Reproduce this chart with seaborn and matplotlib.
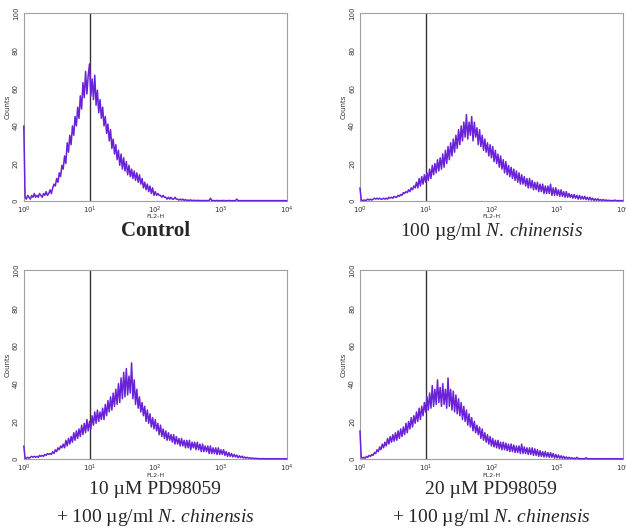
import numpy as np
import pandas as pd
import matplotlib
matplotlib.use("Agg")
import matplotlib.pyplot as plt
import seaborn as sns
from matplotlib.ticker import LogLocator, MultipleLocator

# histogram counts, one value per 0.02 decade of FL2-H (10^0 .. 10^4)
control = [
    40, 2, 1, 3, 2, 1, 3, 2, 4, 2,
    3, 2, 4, 3, 2, 4, 3, 5, 3, 4,
    6, 4, 7, 9, 8, 12, 10, 15, 13, 19,
    17, 24, 20, 31, 26, 35, 30, 40, 35, 45,
    40, 50, 44, 56, 49, 63, 55, 69, 57, 67,
    73, 56, 65, 54, 67, 51, 59, 47, 54, 44,
    50, 40, 45, 36, 41, 32, 38, 28, 33, 25,
    30, 22, 27, 19, 25, 17, 23, 16, 21, 14,
    19, 13, 17, 12, 16, 11, 15, 10, 14, 9,
    12, 7, 10, 6, 9, 5, 8, 4, 7, 3,
    5, 3, 4, 3, 3, 2, 3, 2, 2, 1,
    2, 1, 2, 1, 1, 2, 1, 1, 0.5, 1,
    0.5, 1, 0.3, 0.8, 0.3, 0.5, 0.3, 0.6, 0.2, 0.4,
    0.3, 0.2, 0.4, 0.2, 0.3, 0.2, 0.3, 0.2, 0.2, 0.3,
    0.2, 0.3, 1.5, 0.2, 0.3, 0.2, 0.2, 0.3, 0.2, 0.2,
    0.2, 0.2, 0.3, 0.2, 0.2, 0.2, 0.3, 0.2, 0.2, 0.2,
    0.2, 0.2, 1.0, 0.2, 0.2, 0.2, 0.2, 0.2, 0.2, 0.2,
    0.2, 0.2, 0.2, 0.2, 0.2, 0.2, 0.2, 0.2, 0.2, 0.2,
    0.2, 0.2, 0.2, 0.2, 0.2, 0.2, 0.2, 0.2, 0.2, 0.2,
    0.2, 0.2, 0.2, 0.2, 0.2, 0.2, 0.2, 0.2, 0.2, 0.2,
    0.2,
]

nc100 = [
    7, 0.5, 0.3, 0.5, 0.3, 0.5, 1, 0.5, 1, 0.5,
    1, 1.5, 1, 1.5, 1, 1.5, 1, 1, 1.5, 1,
    1.5, 1, 2, 1.5, 2, 1.5, 2.5, 2, 2, 3,
    2.5, 3.5, 3, 4.5, 4, 5, 4.5, 6, 5, 7,
    6, 8, 7, 10, 7, 12, 8, 13, 9, 14,
    10, 15, 11, 17, 12, 19, 14, 20, 15, 22,
    16, 23, 17, 25, 18, 27, 20, 29, 22, 31,
    24, 33, 26, 35, 28, 38, 30, 40, 32, 42,
    34, 46, 33, 42, 35, 45, 32, 42, 34, 39,
    30, 38, 29, 35, 27, 33, 26, 31, 24, 30,
    23, 29, 21, 27, 20, 25, 18, 24, 17, 22,
    15, 21, 14, 19, 13, 18, 12, 17, 11, 16,
    10, 15, 9, 14, 9, 13, 8, 12, 7, 12,
    7, 11, 6, 10, 6, 10, 5, 9, 5, 9,
    4, 8, 4, 8, 4, 9, 3, 7, 3, 7,
    3, 6, 2.5, 6, 2.5, 5, 2, 5, 2, 4,
    2, 3.5, 1.5, 3.5, 1.5, 3, 1, 3, 1, 2.5,
    1, 2.5, 0.8, 2, 0.6, 2, 0.5, 1.5, 0.3, 1.2,
    0.3, 1.2, 0.3, 0.8, 0.2, 0.8, 0.2, 0.6, 0.2, 0.4,
    0.2, 0.3, 0.2, 0.2, 0.5, 0.2, 0.2, 0.2, 0.2, 0.2,
    0.2,
]

pd10_nc100 = [
    7, 0.5, 0.5, 1, 0.5, 1, 1.5, 1, 1.5, 1,
    1.5, 1, 2, 1.5, 2, 1.5, 2.5, 2, 3, 2.5,
    3, 2.5, 4, 3, 5, 4, 6, 5, 7, 6,
    8, 6, 10, 7, 11, 8, 12, 9, 14, 10,
    15, 11, 16, 12, 18, 13, 19, 14, 21, 15,
    20, 16, 23, 18, 25, 19, 26, 20, 25, 21,
    27, 21, 29, 23, 31, 25, 33, 26, 35, 28,
    37, 29, 40, 30, 43, 32, 46, 33, 48, 34,
    44, 35, 51, 32, 42, 29, 37, 27, 33, 25,
    30, 23, 28, 20, 26, 19, 24, 17, 22, 16,
    21, 15, 19, 13, 18, 12, 16, 11, 15, 10,
    14, 10, 13, 9, 13, 8, 12, 8, 11, 7,
    11, 7, 10, 6, 10, 6, 10, 5, 9, 6,
    9, 5, 9, 5, 8, 4, 8, 4, 7, 4,
    7, 3, 7, 3, 6, 3, 6, 2.5, 6, 2.5,
    5, 2.5, 5, 2, 4, 1.5, 3.5, 1.5, 3, 1.2,
    2.5, 1.2, 2.2, 0.8, 1.8, 0.8, 1.6, 0.6, 1.2, 0.5,
    1, 0.5, 0.8, 0.4, 0.6, 0.3, 0.5, 0.3, 0.4, 0.2,
    0.3, 0.2, 0.3, 0.2, 0.2, 0.2, 0.2, 0.2, 0.2, 0.2,
    0.2, 0.2, 0.2, 0.2, 0.2, 0.2, 0.2, 0.2, 0.2, 0.2,
    0.2,
]

pd20_nc100 = [
    15, 1, 0.5, 1, 0.5, 1.5, 1, 2, 1.5, 2.5,
    2, 3.5, 3, 5, 4, 6.5, 5, 8, 6, 9,
    7, 11, 8, 12, 9, 13, 9.5, 14, 10, 15,
    11, 16, 12, 17, 13, 19, 14, 20, 16, 22,
    17, 23, 19, 25, 20, 27, 21, 28, 23, 30,
    25, 33, 26, 35, 27, 39, 28, 37, 29, 42,
    30, 38, 28, 40, 29, 37, 27, 43, 28, 37,
    26, 36, 25, 34, 24, 32, 23, 30, 21, 28,
    20, 26, 18, 24, 17, 22, 15, 20, 14, 18,
    13, 17, 11, 16, 10, 14, 9, 13, 8, 12,
    7, 11, 6.5, 10, 6, 10, 5.5, 9, 5, 9,
    5, 8.5, 4.5, 8, 4, 8, 4, 7.5, 3.5, 7,
    3.5, 7, 3, 8, 3, 6.5, 3, 6, 2.5, 6,
    2.5, 6, 2, 5.5, 2, 5, 1.5, 4.5, 1.5, 4,
    1.2, 4, 1.2, 3.5, 1, 3.5, 1, 3, 0.6, 2.5,
    0.6, 2.2, 0.5, 1.8, 0.4, 1.5, 0.3, 1.2, 0.3, 1,
    0.3, 0.8, 0.3, 0.6, 0.2, 1, 0.2, 0.4, 0.2, 0.3,
    0.2, 0.2, 0.8, 0.2, 0.2, 0.2, 0.2, 0.2, 0.2, 0.2,
    0.2, 0.2, 0.2, 0.2, 0.2, 0.2, 0.2, 0.2, 0.2, 0.2,
    0.2, 0.2, 0.2, 0.2, 0.2, 0.2, 0.2, 0.2, 0.2, 0.2,
    0.2,
]

captions = [
    ["Control"],
    [r"100 µg/ml $\mathit{N.\,chinensis}$"],
    ["10 µM PD98059", r"+ 100 µg/ml $\mathit{N.\,chinensis}$"],
    ["20 µM PD98059", r"+ 100 µg/ml $\mathit{N.\,chinensis}$"],
]
series = [control, nc100, pd10_nc100, pd20_nc100]
gate = 10

# channel grid (log spaced, 0.02 decade)
channels = 10 ** (np.arange(201) * 0.02)

sns.set_style("white")
plt.rcParams["font.family"] = ["DejaVu Sans"]
plt.rcParams["mathtext.fontset"] = "custom"
plt.rcParams["mathtext.rm"] = "Liberation Serif"
plt.rcParams["mathtext.it"] = "Liberation Serif:italic"

fig = plt.figure(figsize=(6.26, 5.29), dpi=100)

# axes boxes in figure fraction: left, bottom, width, height
boxes = [
    [0.038, 0.620, 0.420, 0.355],
    [0.575, 0.620, 0.420, 0.355],
    [0.038, 0.132, 0.420, 0.357],
    [0.575, 0.132, 0.420, 0.357],
]

for counts, box, cap in zip(series, boxes, captions):
    ax = fig.add_axes(box)
    df = pd.DataFrame({"FL2-H": channels, "Counts": counts})
    sns.lineplot(data=df, x="FL2-H", y="Counts", ax=ax, color="#6a22d8",
                 linewidth=1.1, clip_on=False, zorder=3)
    ax.axvline(gate, color="#333333", linewidth=1.0, zorder=2)
    ax.set_xscale("log")
    ax.set_xlim(1, 10000)
    ax.set_ylim(0, 100)
    ax.yaxis.set_major_locator(MultipleLocator(20))
    ax.yaxis.set_minor_locator(MultipleLocator(4))
    ax.xaxis.set_major_locator(LogLocator(base=10, numticks=10))
    ax.xaxis.set_minor_locator(LogLocator(base=10, subs=np.arange(2, 10), numticks=10))
    for s in ax.spines.values():
        s.set_color("#a0a0a0")
        s.set_linewidth(0.8)
    ax.tick_params(axis="both", which="major", length=2.5, width=0.6, color="#888888",
                   labelsize=5, labelcolor="#333333", pad=1, direction="out")
    ax.tick_params(axis="x", which="major", pad=0)
    ax.tick_params(axis="both", which="minor", length=1.5, width=0.4, color="#aaaaaa",
                   direction="out")
    ax.tick_params(axis="y", labelrotation=90)
    for lab in ax.get_yticklabels():
        lab.set_va("center")
    ax.set_xlabel("FL2-H", fontsize=4.5, color="#333333", labelpad=-1)
    ax.set_ylabel("Counts", fontsize=5, color="#333333", labelpad=2)

    cx = box[0] + box[2] / 2
    if len(cap) == 1:
        if cap[0] == "Control":
            fig.text(cx, 1 - 231 / 529, cap[0], ha="center", va="center",
                     fontsize=15, family="Liberation Serif", weight="bold")
        else:
            fig.text(cx, 1 - 231 / 529, cap[0], ha="center", va="center",
                     fontsize=14, family="Liberation Serif")
    else:
        fig.text(cx, 1 - 490 / 529, cap[0], ha="center", va="center",
                 fontsize=14, family="Liberation Serif")
        fig.text(cx, 1 - 518 / 529, cap[1], ha="center", va="center",
                 fontsize=14, family="Liberation Serif")

fig.savefig("out.png", dpi=100)
